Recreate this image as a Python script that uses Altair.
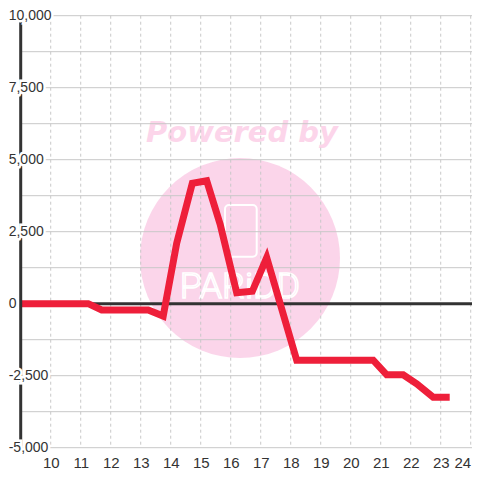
import altair as alt
import pandas as pd

# ---- data ----
hours = [9.0, 11.25, 11.7, 13.25, 13.75, 14.2, 14.72, 15.2, 15.65, 16.2, 16.72,
         17.2, 18.2, 20.75, 21.2, 21.75, 22.2, 22.75, 23.3]
values = [0, 0, -220, -220, -430, 2100, 4180, 4270, 2750, 380, 430,
          1600, -1960, -1960, -2470, -2470, -2780, -3250, -3250]

x_ticks = list(range(10, 25))
y_ticks = [10000, 7500, 5000, 2500, 0, -2500, -5000]
y_tick_labels = ["10,000", "7,500", "5,000", "2,500", "0", "-2,500", "-5,000"]
y_grid = [10000, 8750, 7500, 6250, 5000, 3750, 2500, 1250, 0,
          -1250, -2500, -3750, -5000]

W, H = 451.3, 432
xs = alt.Scale(domain=[9, 24.043], nice=False, zero=False)
ys = alt.Scale(domain=[-5000, 10000], nice=False, zero=False)

x_axis = alt.Axis(
    values=x_ticks, format="d", grid=False, ticks=False, domain=False,
    labelFont="Liberation Sans", labelFontSize=15, labelColor="#333333",
    labelPadding=8, labelFlush=12, title=None)

line_df = pd.DataFrame({"h": hours, "v": values})
ytick_df = pd.DataFrame({"v": y_ticks, "lab": y_tick_labels})
hgrid_df = pd.DataFrame({"v": y_grid})
vgrid_df = pd.DataFrame({"h": x_ticks})
one = pd.DataFrame({"a": [0]})

PINK = "#f9b9dc"

circle = alt.Chart(one).mark_point(
    shape="circle", filled=True, color=PINK, opacity=0.6, size=40000
).encode(x=alt.value(219.3), y=alt.value(242.3))

powered = alt.Chart(one).mark_text(
    text="Powered by", font="DejaVu Sans", fontSize=29, fontWeight="bold",
    fontStyle="italic", color="#fcd5ea", align="center", baseline="middle"
).encode(x=alt.value(221.3), y=alt.value(117.3))

phone = alt.Chart(one).mark_rect(
    fill="transparent", stroke="white", strokeWidth=2, cornerRadius=4
).encode(x=alt.value(204.3), x2=alt.value(236), y=alt.value(189.3), y2=alt.value(241))

logo = alt.Chart(one).mark_text(
    text="PARiDD", font="Roboto", fontSize=36, fontWeight=300,
    fill="transparent", stroke="white", strokeWidth=1.6,
    align="center", baseline="middle"
).encode(x=alt.value(219.3), y=alt.value(271.3))

hgrid = alt.Chart(hgrid_df).mark_rule(color="#c8c8c8", strokeWidth=1).encode(
    y=alt.Y("v:Q", scale=ys, axis=None)
)
vgrid = alt.Chart(vgrid_df).mark_rule(
    color="#c8c8c8", strokeWidth=1, strokeDash=[3, 3]
).encode(x=alt.X("h:Q", scale=xs, axis=x_axis))

zero = alt.Chart(one).mark_rule(color="#333333", strokeWidth=3).encode(
    y=alt.Y("z:Q", scale=ys, axis=None)
).transform_calculate(z="0")

line = alt.Chart(line_df).mark_line(
    color="#ee1f3a", strokeWidth=7, clip=True, strokeCap="butt"
).encode(
    x=alt.X("h:Q", scale=xs, axis=x_axis),
    y=alt.Y("v:Q", scale=ys, axis=None),
)

yaxis_line = alt.Chart(one).mark_rule(color="#333333", strokeWidth=3).encode(
    x=alt.value(0)
)

halo = alt.Chart(ytick_df).mark_text(
    font="Liberation Sans", fontSize=14, align="left", baseline="middle",
    fill="white", stroke="white", strokeWidth=5, dx=-12
).encode(x=alt.value(0), y=alt.Y("v:Q", scale=ys, axis=None), text="lab:N")

ylabels = alt.Chart(ytick_df).mark_text(
    font="Liberation Sans", fontSize=14, align="left", baseline="middle",
    fill="#333333", dx=-12
).encode(x=alt.value(0), y=alt.Y("v:Q", scale=ys, axis=None), text="lab:N")

chart = alt.layer(
    circle, powered, phone, logo, hgrid, vgrid, zero, line,
    yaxis_line, halo, ylabels
).properties(
    width=W, height=H,
    autosize=alt.AutoSizeParams(type="none"),
    padding={"left": 12.7, "top": 7.7, "right": 0, "bottom": 24},
    background="white",
).configure_view(stroke=None)

chart.save("out.html", embed_options={"renderer": "svg", "actions": False})
